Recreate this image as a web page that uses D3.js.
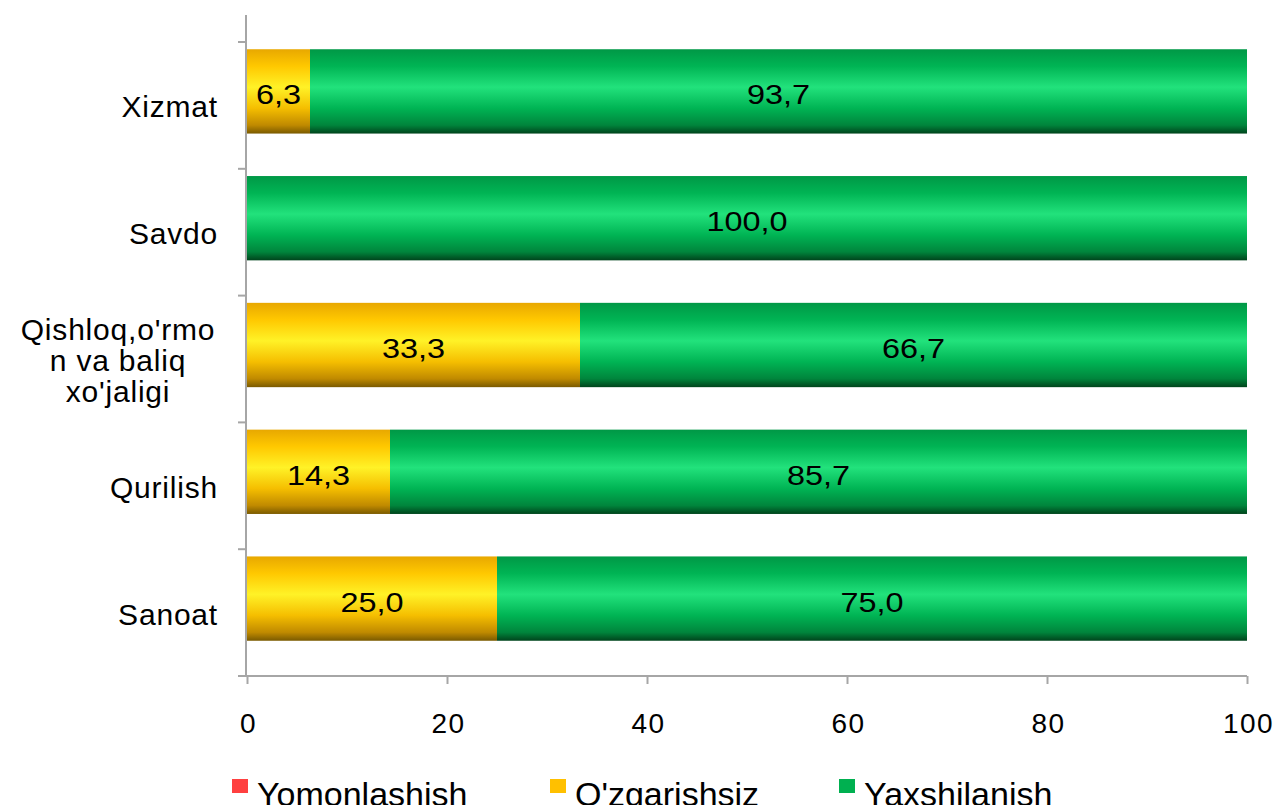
<!DOCTYPE html>
<html>
<head>
<meta charset="utf-8">
<script src="https://cdn.jsdelivr.net/npm/d3@7"></script>
<style>
  body { margin: 0; background: #fff; }
  svg { display: block; font-family: "Liberation Sans", Arial, sans-serif; }
</style>
</head>
<body>
<svg id="chart" width="1281" height="805"></svg>
<script>
// data, top to bottom
var categories = ['Xizmat', 'Savdo', 'Qishloq,o\'rmon va baliq xo\'jaligi', 'Qurilish', 'Sanoat'];
var categoryLines = [['Xizmat'], ['Savdo'], ['Qishloq,o\'rmo', 'n va baliq', 'xo\'jaligi'], ['Qurilish'], ['Sanoat']];
var seriesNames = ['Yomonlashish', 'O\'zgarishsiz', 'Yaxshilanish'];
var yomonlashish = [0, 0, 0, 0, 0];
var ozgarishsiz = [6.3, 0, 33.3, 14.3, 25.0];
var yaxshilanish = [93.7, 100.0, 66.7, 85.7, 75.0];
var xTicks = [0, 20, 40, 60, 80, 100];

var svg = d3.select('#chart');
var left = 247, right = 1247;
var axisY = 676;

var x = d3.scaleLinear().domain([0, 100]).range([left, right]);
// bars sit a little above the category bands (3d floor offset)
var y = d3.scaleBand().domain(categories).range([28, 662]).paddingInner(0.335).paddingOuter(0.1675);
var yLab = d3.scaleBand().domain(categories).range([42, 676]);

// gradients for the bars
var defs = svg.append('defs');
function grad(id, stops) {
  var g = defs.append('linearGradient').attr('id', id)
      .attr('x1', 0).attr('y1', 0).attr('x2', 0).attr('y2', 1);
  stops.forEach(function(s) {
    g.append('stop').attr('offset', s[0]).attr('stop-color', s[1]);
  });
}
grad('g-red', [[0, '#c82020'], [0.45, '#ff5a5a'], [1, '#801010']]);
grad('g-yellow', [[0, '#e8a800'], [0.2, '#ffc800'], [0.45, '#fff227'], [0.7, '#f5be00'], [0.9, '#c08a00'], [1, '#7a5a00']]);
grad('g-green', [[0, '#009846'], [0.2, '#00b454'], [0.45, '#22e27c'], [0.7, '#00b454'], [0.9, '#00853c'], [1, '#00441c']]);
var fills = ['url(#g-red)', 'url(#g-yellow)', 'url(#g-green)'];
var legendColors = ['#ff4040', '#ffc000', '#00b050'];

// axes
svg.append('line').attr('x1', 246).attr('x2', 246).attr('y1', 15).attr('y2', axisY)
    .attr('stroke', '#a6a6a6').attr('stroke-width', 2);
var yTickPos = categories.map(function(c) { return yLab(c); }).concat([axisY]);
svg.selectAll('.ytick').data(yTickPos).enter().append('line')
    .attr('x1', 238).attr('x2', 246)
    .attr('y1', function(d) { return d; }).attr('y2', function(d) { return d; })
    .attr('stroke', '#a6a6a6').attr('stroke-width', 2);

var xAxis = svg.append('g').attr('transform', 'translate(0,' + axisY + ')')
    .call(d3.axisBottom(x).tickValues(xTicks).tickSize(8).tickPadding(29));
xAxis.select('.domain').attr('stroke', '#a6a6a6').attr('stroke-width', 2)
    .attr('d', 'M' + (left - 1) + ',0H' + right);
xAxis.selectAll('.tick line').attr('stroke', '#a6a6a6').attr('stroke-width', 2);
xAxis.selectAll('.tick text').attr('font-size', 28).attr('fill', '#000')
    .attr('letter-spacing', 1.5).attr('dx', 1)
    .attr('font-family', '"Liberation Sans", Arial, sans-serif');

// bars
var series = [yomonlashish, ozgarishsiz, yaxshilanish];
var rows = categories.map(function(c, i) {
  var row = {cat: c};
  seriesNames.forEach(function(s, j) { row[s] = series[j][i]; });
  return row;
});
var stacked = d3.stack().keys(seriesNames)(rows);

var fmt = function(v) { return d3.format('.1f')(v).replace('.', ','); };

stacked.forEach(function(layer, j) {
  var g = svg.append('g');
  var shown = layer.filter(function(d) { return d[1] - d[0] > 0; });
  g.selectAll('rect').data(shown)
      .enter().append('rect')
      .attr('x', function(d) { return x(d[0]); })
      .attr('width', function(d) { return x(d[1]) - x(d[0]); })
      .attr('y', function(d) { return y(d.data.cat); })
      .attr('height', y.bandwidth())
      .attr('fill', fills[j]);
  // labels are drawn slightly stretched, like the original
  g.selectAll('text').data(shown)
      .enter().append('text')
      .attr('transform', function(d) {
        var cx = (x(d[0]) + x(d[1])) / 2;
        var cy = y(d.data.cat) + y.bandwidth() / 2 + 13;
        return 'translate(' + cx + ',' + cy + ') scale(1.2,1)';
      })
      .attr('text-anchor', 'middle').attr('font-size', 27).attr('fill', '#000')
      .text(function(d) { return fmt(d[1] - d[0]); });
});

// category labels
categories.forEach(function(c, i) {
  var lines = categoryLines[i];
  var cy = yLab(c) + yLab.bandwidth() / 2;
  var lh = 31;
  var t = svg.append('text').attr('font-size', 30)
      .attr('fill', '#000').attr('letter-spacing', 0.8);
  var cx = lines.length > 1 ? 118 : 218;
  t.attr('text-anchor', lines.length > 1 ? 'middle' : 'end');
  lines.forEach(function(l, k) {
    t.append('tspan').attr('x', cx)
        .attr('y', cy + 12 + (k - (lines.length - 1) / 2) * lh)
        .text(l);
  });
});

// legend
var legendX = [232, 550, 839];
seriesNames.forEach(function(s, j) {
  svg.append('rect').attr('x', legendX[j]).attr('y', 779).attr('width', 16).attr('height', 14)
      .attr('fill', legendColors[j]);
  svg.append('text').attr('x', legendX[j] + 25).attr('y', 806)
      .attr('font-size', 34).attr('fill', '#000').text(s);
});
</script>
</body>
</html>
